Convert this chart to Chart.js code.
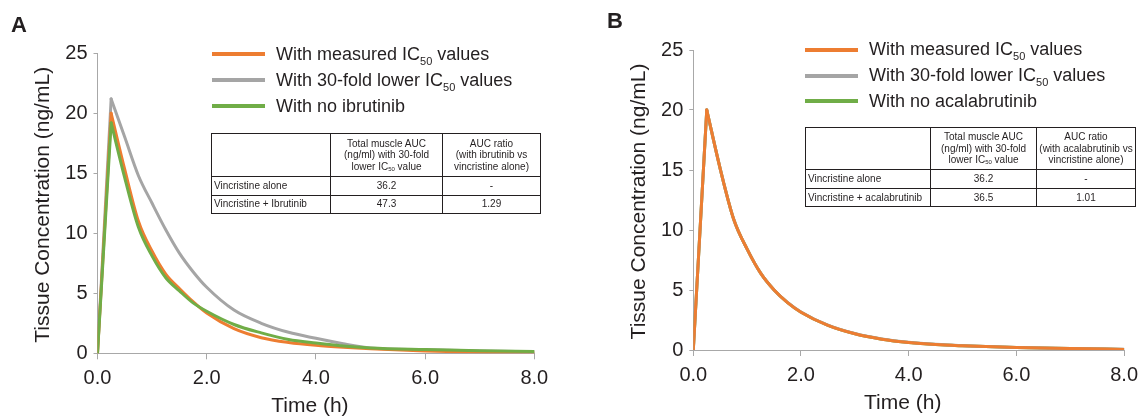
<!DOCTYPE html>
<html><head><meta charset="utf-8">
<script src="https://cdn.jsdelivr.net/npm/chart.js@4.4.1/dist/chart.umd.min.js"></script>
<style>
html,body{margin:0;padding:0;background:#fff;}
body{width:1145px;height:419px;position:relative;overflow:hidden;font-family:"Liberation Sans",Arial,sans-serif;color:#231f20;}
canvas{position:absolute;top:0;}
.letter{position:absolute;font-weight:bold;font-size:22px;line-height:22px;}
.legend{position:absolute;font-size:18px;}
.legend .row{display:flex;align-items:center;white-space:nowrap;}
.legend .sw{width:53px;height:4px;margin-right:11px;flex:none;}
.legend sub{font-size:11px;vertical-align:-5px;line-height:0;}
table.auc{position:absolute;border-collapse:collapse;table-layout:fixed;font-size:10px;line-height:11.5px;}
table.auc td{border:1px solid #231f20;padding:0 2px;text-align:center;overflow:hidden;white-space:nowrap;vertical-align:middle;}
table.auc td.lab{text-align:left;}
table.auc sub{font-size:6px;vertical-align:-1px;line-height:0;}
</style>
</head><body>
<canvas id="cA" width="572" height="419" style="left:0"></canvas>
<canvas id="cB" width="573" height="419" style="left:572px"></canvas>
<div class="letter" style="left:11px;top:14px">A</div>
<div class="letter" style="left:607px;top:10px">B</div>
<div class="legend" id="legA" style="left:212px;top:41px"></div>
<div class="legend" id="legB" style="left:805px;top:37px"></div>
<table class="auc" id="tabA" style="left:211px;top:133px;width:329px"></table>
<table class="auc" id="tabB" style="left:805px;top:127px;width:330px"></table>
<script>
// ---------- data ----------
const timeH = [0, 0.25, 0.5, 0.75, 1.0, 1.25, 1.5, 1.75, 2.0, 2.5, 3.0, 3.5, 4.0, 4.5, 5.0, 6.0, 7.0, 8.0];

const aMeasured = [0, 20.0, 15.3, 11.0, 8.5, 6.6, 5.4, 4.3, 3.35, 2.05, 1.3, 0.9, 0.66, 0.5, 0.38, 0.2, 0.08, 0.03];
const aLower30  = [0, 21.2, 18.0, 14.8, 12.5, 10.3, 8.35, 6.8, 5.5, 3.6, 2.5, 1.75, 1.25, 0.8, 0.45, 0.3, 0.2, 0.12];
const aNoDrug   = [0, 19.2, 14.6, 10.5, 8.1, 6.3, 5.2, 4.2, 3.5, 2.4, 1.7, 1.15, 0.85, 0.6, 0.45, 0.32, 0.22, 0.15];

const bMeasured = [0, 20.0, 15.1, 10.9, 8.4, 6.4, 5.0, 3.95, 3.15, 2.05, 1.35, 0.9, 0.62, 0.45, 0.35, 0.2, 0.12, 0.05];
const bLower30  = [0, 20.0, 15.1, 10.9, 8.4, 6.4, 5.0, 3.97, 3.17, 2.07, 1.37, 0.92, 0.64, 0.47, 0.36, 0.21, 0.13, 0.06];
const bNoDrug   = [0, 20.0, 15.1, 10.9, 8.4, 6.4, 5.0, 3.95, 3.15, 2.05, 1.35, 0.9, 0.62, 0.45, 0.35, 0.2, 0.12, 0.05];

const legendA = ['With measured IC50 values', 'With 30-fold lower IC50 values', 'With no ibrutinib'];
const legendB = ['With measured IC50 values', 'With 30-fold lower IC50 values', 'With no acalabrutinib'];
const seriesColors = ['#ED7D31', '#A5A5A5', '#70AD47'];

const xTicks = [0, 2, 4, 6, 8];
const yTicks = [0, 5, 10, 15, 20, 25];
const xTitle = 'Time (h)';
const yTitle = 'Tissue Concentration (ng/mL)';

const tableHeadA = ['', 'Total muscle AUC|(ng/ml) with 30-fold|lower IC50 value', 'AUC ratio|(with ibrutinib vs|vincristine alone)'];
const tableRowsA = ['Vincristine alone', 'Vincristine + Ibrutinib'];
const tableAucA = ['36.2', '47.3'];
const tableRatioA = ['-', '1.29'];

const tableHeadB = ['', 'Total muscle AUC|(ng/ml) with 30-fold|lower IC50 value', 'AUC ratio|(with acalabrutinib vs|vincristine alone)'];
const tableRowsB = ['Vincristine alone', 'Vincristine + acalabrutinib'];
const tableAucB = ['36.2', '36.5'];
const tableRatioB = ['-', '1.01'];

// ---------- helpers ----------
const FONT = 'Liberation Sans, Arial, sans-serif';
const TXT = '#231f20';
const AX = '#a8a8a8';

function sub50(s) { return s.replace('IC50', 'IC<sub>50</sub>'); }

function buildLegend(el, labels, rowH) {
  labels.forEach((l, i) => {
    const r = document.createElement('div');
    r.className = 'row'; r.style.height = rowH + 'px';
    r.innerHTML = '<span class="sw" style="background:' + seriesColors[i] + '"></span><span>' + sub50(l) + '</span>';
    el.appendChild(r);
  });
}
buildLegend(document.getElementById('legA'), legendA, 26);
buildLegend(document.getElementById('legB'), legendB, 25.8);

function buildTable(el, head, rows, auc, ratio, colW, rowH) {
  let h = '<colgroup>' + colW.map(w => '<col style="width:' + w + 'px">').join('') + '</colgroup>';
  h += '<tr style="height:' + rowH[0] + 'px">' + head.map(c => '<td>' + sub50(c).split('|').join('<br>') + '</td>').join('') + '</tr>';
  rows.forEach((r, i) => {
    h += '<tr style="height:' + rowH[i + 1] + 'px"><td class="lab">' + r + '</td><td>' + auc[i] + '</td><td>' + ratio[i] + '</td></tr>';
  });
  el.innerHTML = h;
}
buildTable(document.getElementById('tabA'), tableHeadA, tableRowsA, tableAucA, tableRatioA, [119, 112, 98], [43, 18.5, 18]);
buildTable(document.getElementById('tabB'), tableHeadB, tableRowsB, tableAucB, tableRatioB, [125, 106, 99], [42, 18.5, 18.5]);

const axisTitles = {
  id: 'axisTitles',
  afterDraw(chart) {
    const { ctx, chartArea: a } = chart;
    ctx.save();
    ctx.fillStyle = TXT;
    ctx.font = '21px ' + FONT;
    ctx.textAlign = 'center';
    ctx.textBaseline = 'middle';
    ctx.fillText(xTitle, (a.left + a.right) / 2 - 6, a.bottom + 53);
    ctx.translate(a.left - 54, (a.top + a.bottom) / 2 + 1.5);
    ctx.rotate(-Math.PI / 2);
    ctx.fillText(yTitle, 0, 0);
    ctx.restore();
  }
};

function series(vals, from, to) {
  return timeH.map((t, i) => ({ x: t, y: vals[i] })).slice(from, to);
}

// each series: straight rise to the peak, then a smooth decay drawn from the same arrays
function makeChart(id, sets, orders, labels, g) {
  const datasets = [];
  sets.forEach((v, i) => {
    const base = { label: labels[i], borderColor: seriesColors[i], backgroundColor: seriesColors[i],
      borderWidth: 3, pointRadius: 0, fill: false, order: orders[i],
      borderJoinStyle: 'round', borderCapStyle: 'round' };
    datasets.push(Object.assign({}, base, { data: series(v, 0, 2), tension: 0 }));
    datasets.push(Object.assign({}, base, { data: series(v, 1), cubicInterpolationMode: 'monotone' }));
  });
  return new Chart(document.getElementById(id), {
    type: 'line',
    data: { datasets },
    options: {
      responsive: false, animation: false, devicePixelRatio: 1,
      layout: { padding: { left: 0, right: g.right, top: g.top, bottom: 0 } },
      plugins: { legend: { display: false }, tooltip: { enabled: false } },
      scales: {
        x: {
          type: 'linear', min: 0, max: 8,
          afterFit(s) { s.height = g.xh; },
          afterBuildTicks(s) { s.ticks = xTicks.map(v => ({ value: v })); },
          ticks: { callback: v => Number(v).toFixed(1), font: { size: 20, family: FONT }, color: TXT, padding: 7, maxRotation: 0, autoSkip: false },
          grid: { drawOnChartArea: false, drawTicks: true, tickLength: 6, color: AX },
          border: { color: AX, width: 1 }
        },
        y: {
          min: 0, max: 25,
          afterFit(s) { s.width = g.yw; },
          afterBuildTicks(s) { s.ticks = yTicks.map(v => ({ value: v })); },
          ticks: { font: { size: 20, family: FONT }, color: TXT, padding: 6 },
          grid: { drawOnChartArea: false, drawTicks: true, tickLength: 4, color: AX },
          border: { color: AX, width: 1 }
        }
      }
    },
    plugins: [axisTitles]
  });
}

makeChart('cA', [aMeasured, aLower30, aNoDrug], [1, 2, 0], legendA,
  { yw: 97.5, xh: 419 - 353.3, top: 53.3, right: 572 - 534.3 });
makeChart('cB', [bMeasured, bLower30, bNoDrug], [0, 1, 2], legendB,
  { yw: 121.3, xh: 419 - 350, top: 50, right: 573 - 558.6 });
</script>
</body></html>
